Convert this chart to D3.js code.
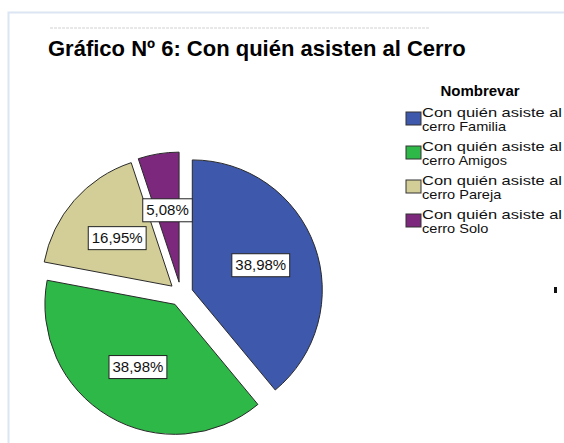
<!DOCTYPE html>
<html>
<head>
<meta charset="utf-8">
<script src="https://cdn.jsdelivr.net/npm/d3@7"></script>
<style>
body { margin:0; background:#fff; }
svg { display:block; font-family:"Liberation Sans", Arial, sans-serif; }
</style>
</head>
<body>
<svg id="vis" width="564" height="443"></svg>
<script>
// chart values
var categories = ["Familia", "Amigos", "Pareja", "Solo"];
var values = [38.98, 38.98, 16.95, 5.08];
var labels = ["38,98%", "38,98%", "16,95%", "5,08%"];
var colors = ["#3e58ac", "#2eb848", "#d3ce97", "#7c287d"];
var legendTitle = "Nombrevar";
var title = "Gráfico Nº 6: Con quién asisten al Cerro";

var svg = d3.select("svg#vis");

// light frame of the pasted picture
svg.append("path")
	.attr("d", "M8.5,443 V12.5 H564")
	.attr("fill", "none")
	.attr("stroke", "#dbe5f3")
	.attr("stroke-width", 2);
// faded header line that was cut off
svg.append("line")
	.attr("x1", 50).attr("x2", 430)
	.attr("y1", 28).attr("y2", 28)
	.attr("stroke", "#e8e8e8")
	.attr("stroke-width", 2)
	.attr("stroke-dasharray", "3,1");

svg.append("text")
	.attr("x", 48)
	.attr("y", 56)
	.attr("font-size", "22px")
	.attr("font-weight", "bold")
	.attr("fill", "#000")
	.text(title);

var cx = 181, cy = 294, radius = 130, explode = 12;

var pie = d3.pie().sort(null).value(function(d){ return d; });
var arcs = pie(values);
var arc = d3.arc().innerRadius(0).outerRadius(radius);
var labelArc = d3.arc().innerRadius(radius * 0.56).outerRadius(radius * 0.56);

var g = svg.append("g").attr("transform", "translate(" + cx + "," + cy + ")");

var slices = g.selectAll("g.slice")
	.data(arcs)
	.enter()
	.append("g")
	.attr("class", "slice")
	.attr("transform", function(d){
		var mid = (d.startAngle + d.endAngle) / 2;
		return "translate(" + (Math.sin(mid) * explode) + "," + (-Math.cos(mid) * explode) + ")";
	});

slices.append("path")
	.attr("d", arc)
	.attr("fill", function(d, i){ return colors[i]; })
	.attr("stroke", "#2a2a2a")
	.attr("stroke-width", 1);

slices.each(function(d, i){
	var p = labelArc.centroid(d);
	var sel = d3.select(this);
	var t = sel.append("text")
		.attr("x", p[0])
		.attr("y", p[1] + 5)
		.attr("text-anchor", "middle")
		.attr("font-size", "15px")
		.attr("fill", "#111")
		.text(labels[i]);
	var bb = t.node().getBBox();
	sel.insert("rect", "text")
		.attr("x", bb.x - 3.5)
		.attr("y", p[1] - 11.5)
		.attr("width", bb.width + 7)
		.attr("height", 23)
		.attr("fill", "#fff")
		.attr("stroke", "#222")
		.attr("stroke-width", 1);
});

// legend
var legend = svg.append("g");
legend.append("text")
	.attr("x", 480)
	.attr("y", 96)
	.attr("text-anchor", "middle")
	.attr("font-size", "15px")
	.attr("font-weight", "bold")
	.text(legendTitle);

var items = legend.selectAll("g.item")
	.data(categories)
	.enter()
	.append("g")
	.attr("class", "item")
	.attr("transform", function(d, i){ return "translate(406," + (112 + i * 34) + ")"; });

items.append("rect")
	.attr("width", 15)
	.attr("height", 13)
	.attr("fill", function(d, i){ return colors[i]; })
	.attr("stroke", "#333")
	.attr("stroke-width", 1);

items.append("text")
	.attr("x", 16)
	.attr("y", 5)
	.attr("font-size", "13px")
	.attr("textLength", 140)
	.attr("lengthAdjust", "spacingAndGlyphs")
	.attr("fill", "#111")
	.text("Con quién asiste al");
items.append("text")
	.attr("x", 16)
	.attr("y", 19.5)
	.attr("font-size", "13px")
	.attr("fill", "#111")
	.attr("transform", "scale(1.12,1) translate(-1.7,0)")
	.text(function(d){ return "cerro " + d; });

// stray tick at the right edge
svg.append("rect")
	.attr("x", 554).attr("y", 287)
	.attr("width", 3).attr("height", 6)
	.attr("fill", "#111");
</script>
</body>
</html>
